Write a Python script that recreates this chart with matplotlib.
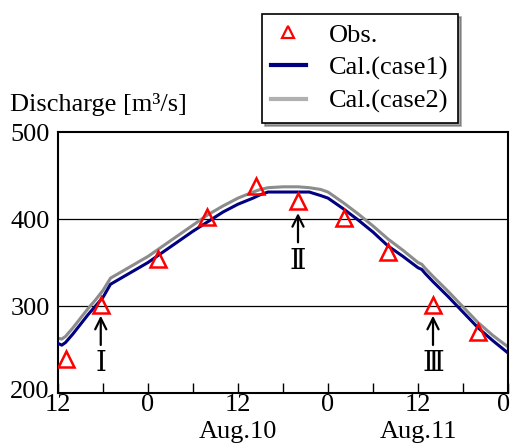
import matplotlib
matplotlib.use("Agg")
import matplotlib.pyplot as plt
from matplotlib.lines import Line2D
import matplotlib.transforms as mtransforms

plt.rcParams['font.family'] = ['Liberation Serif', 'DejaVu Serif']

# hours from 12:00 Aug.9
obs_h = [1.1, 5.7, 13.3, 19.9, 26.4, 32.0, 38.1, 44.0, 50.0, 56.0]
obs_q = [239, 301, 354, 402, 438, 421, 401, 362, 301, 270]

cal_h = [0, 0.5, 1, 2, 3, 4, 5, 6, 7, 8, 10, 12, 14, 16, 18, 20, 22, 24, 26, 27, 28,
         30, 32, 33.5, 35, 36, 38, 40, 42, 44, 46, 48, 48.5, 49, 50, 52, 54, 56, 58, 60]
case1 = [257, 255, 258, 268, 279, 290, 300, 310, 325, 330, 340, 350, 362, 374, 386, 397,
         408, 417, 424, 428, 431, 431, 431, 431, 427, 424, 412, 399, 385, 369, 357, 344,
         342, 337, 328, 311, 293, 275, 260, 246]
case2 = [263, 262, 265, 275, 286, 297, 307, 318, 332, 337, 347, 357, 369, 381, 393, 405,
         415, 424, 431, 434, 436, 437, 437, 436, 434, 431, 419, 406, 392, 377, 364, 350,
         348, 343, 334, 317, 299, 281, 266, 253]

xticks = [0, 12, 24, 36, 48, 60]
xticklabels = ['12', '0', '12', '0', '12', '0']
yticks = [200, 300, 400, 500]

FS = 19

fig = plt.figure(figsize=(5.12, 4.48), dpi=100)
ax = fig.add_axes([58/512, 1-393/448, 450/512, 261/448])

ax.plot(cal_h, case2, color='#8c8c8c', lw=2.2, zorder=2)
ax.plot(cal_h, case1, color='#000080', lw=2.2, zorder=3)
ax.plot(obs_h, obs_q, linestyle='none', marker='^', markersize=11, mfc='none',
        mec='#ff0000', mew=1.8, zorder=4)

ax.set_xlim(0, 60)
ax.set_ylim(200, 500)
ax.set_xticks(xticks)
ax.set_xticklabels(xticklabels, fontsize=FS)
ax.set_xticks([6, 18, 30, 42, 54], minor=True)
ax.set_yticks(yticks)
ax.set_yticklabels([str(v) for v in yticks], fontsize=FS)
ax.tick_params(axis='x', which='both', direction='in', length=7, width=1, pad=1)
ax.tick_params(axis='y', direction='in', length=0, pad=6)
for v in [300, 400]:
    ax.axhline(v, color='black', lw=0.9, zorder=1)
for s in ax.spines.values():
    s.set_linewidth(1.5)

# small nudges of edge labels
ylabs = ax.get_yticklabels()
ylabs[0].set_transform(ylabs[0].get_transform() +
                       mtransforms.ScaledTranslation(0, 4/100, fig.dpi_scale_trans))
xlabs = ax.get_xticklabels()
xlabs[-1].set_transform(xlabs[-1].get_transform() +
                        mtransforms.ScaledTranslation(-4/100, 0, fig.dpi_scale_trans))

fig.text(238/512, 1-432/448, 'Aug.10', fontsize=FS, ha='center', va='center')
fig.text(418/512, 1-432/448, 'Aug.11', fontsize=FS, ha='center', va='center')
fig.text(10/512, 1-104/448, 'Discharge [m³/s]', fontsize=FS, ha='left', va='center')

# arrows and labels
for (h, ytip, ytail, ylab, lab) in [(5.7, 292, 252, 233, 'Ⅰ'),
                                    (32.0, 410, 370, 350, 'Ⅱ'),
                                    (50.0, 292, 252, 233, 'Ⅲ')]:
    ax.annotate('', xy=(h, ytip), xytext=(h, ytail),
                arrowprops=dict(arrowstyle='->', color='black', lw=1.6,
                                mutation_scale=20))
    ax.text(h, ylab, lab, fontsize=20, ha='center', va='center')

handles = [Line2D([], [], linestyle='none', marker='^', markersize=8, mfc='none',
                  mec='#ff0000', mew=1.6),
           Line2D([], [], color='#000080', lw=3),
           Line2D([], [], color='#b0b0b0', lw=3)]
leg = fig.legend(handles, ['Obs.', 'Cal.(case1)', 'Cal.(case2)'],
                 loc='upper left', bbox_to_anchor=(262/512, 1-14/448),
                 fontsize=FS, frameon=True, fancybox=False, shadow=True,
                 handlelength=1.3, handletextpad=0.9, borderpad=0.35,
                 labelspacing=0.36, borderaxespad=0)
leg.get_frame().set_edgecolor('black')
leg.get_frame().set_linewidth(1.2)

fig.savefig('out.png', dpi=100)
